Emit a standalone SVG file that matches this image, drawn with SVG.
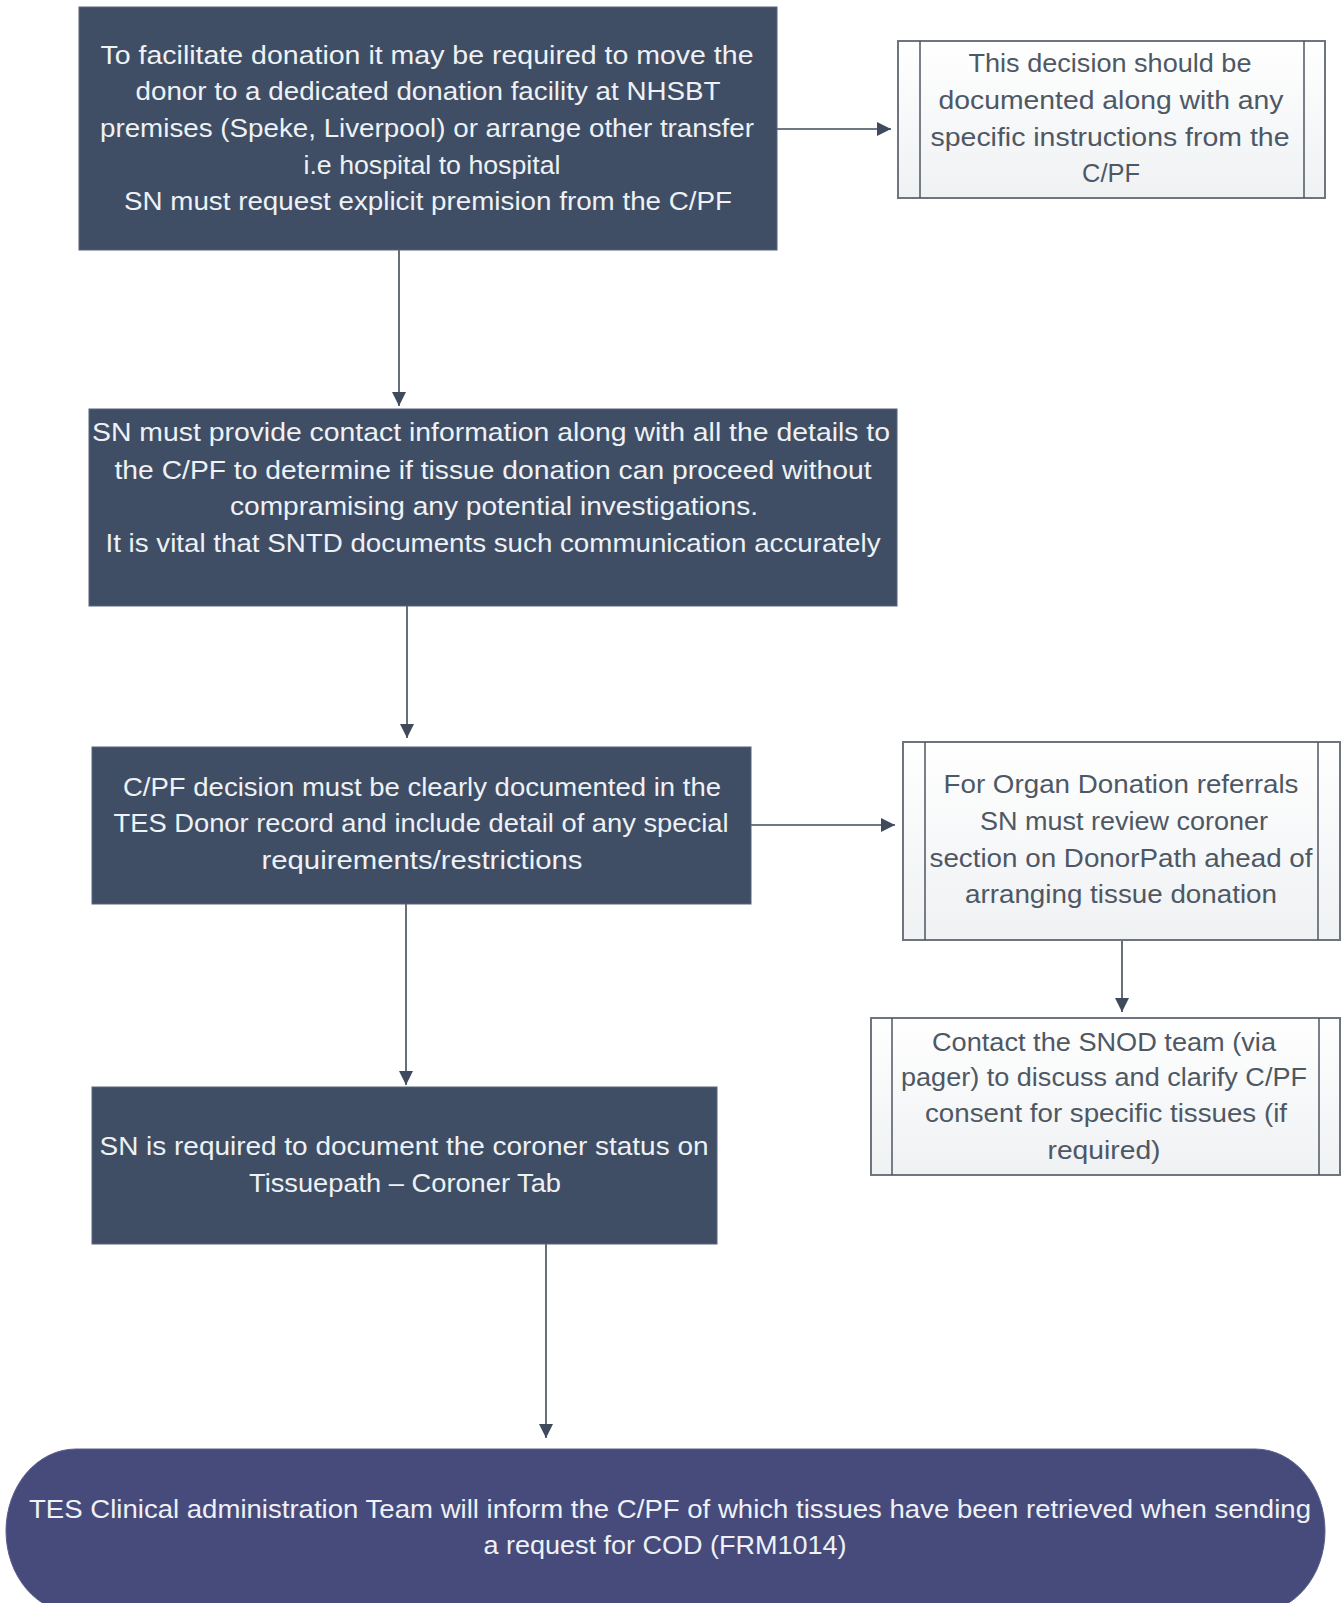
<svg xmlns="http://www.w3.org/2000/svg" width="1341" height="1603" viewBox="0 0 1341 1603">
<style>
.dark{fill:#3f4e64;stroke:#56657a;stroke-width:1}
.term{fill:#464b7c;stroke:#5a5f8c;stroke-width:1}
.side{fill:url(#sg);stroke:#6e757e;stroke-width:2}
.inner{stroke:#4f5660;stroke-width:1.5}
.tw{font-family:"Liberation Sans",Arial,sans-serif;font-size:25px;fill:#eef1f5;text-anchor:middle}
.tg{font-family:"Liberation Sans",Arial,sans-serif;font-size:25px;fill:#4e5864;text-anchor:middle}
.conn{stroke:#3f4b5c;stroke-width:1.6;fill:none;marker-end:url(#ah)}
</style>
<defs>
<linearGradient id="sg" x1="0" y1="0" x2="0" y2="1">
<stop offset="0" stop-color="#ffffff"/>
<stop offset="1" stop-color="#eff1f3"/>
</linearGradient>
<marker id="ah" viewBox="0 0 10 10" refX="10" refY="5" markerWidth="9" markerHeight="9" markerUnits="userSpaceOnUse" orient="auto">
<path d="M0 0 L10 5 L0 10 Z" fill="#3f4b5c"/>
</marker>
<marker id="ah2" viewBox="0 0 10 10" refX="10" refY="5" markerWidth="14" markerHeight="14" markerUnits="userSpaceOnUse" orient="auto">
<path d="M0 0 L10 5 L0 10 Z" fill="#3f4b5c"/>
</marker>
</defs>
<rect width="1341" height="1603" fill="#ffffff"/>

<g id="connectors">
<line class="conn" style="marker-end:url(#ah2)" x1="777" y1="129" x2="891" y2="129"/>
<line class="conn" style="marker-end:url(#ah2)" x1="399" y1="250" x2="399" y2="406"/>
<line class="conn" style="marker-end:url(#ah2)" x1="407" y1="606" x2="407" y2="738"/>
<line class="conn" style="marker-end:url(#ah2)" x1="751" y1="825" x2="895" y2="825"/>
<line class="conn" style="marker-end:url(#ah2)" x1="1122" y1="940" x2="1122" y2="1012"/>
<line class="conn" style="marker-end:url(#ah2)" x1="406" y1="904" x2="406" y2="1085"/>
<line class="conn" style="marker-end:url(#ah2)" x1="546" y1="1244" x2="546" y2="1438"/>
</g>

<g id="node1">
<rect class="dark" x="79" y="7" width="698" height="243"/>
<text class="tw" x="427" y="64" textLength="653" lengthAdjust="spacingAndGlyphs">To facilitate donation it may be required to move the</text>
<text class="tw" x="428" y="100" textLength="585" lengthAdjust="spacingAndGlyphs">donor to a dedicated donation facility at NHSBT</text>
<text class="tw" x="427" y="137" textLength="654" lengthAdjust="spacingAndGlyphs">premises (Speke, Liverpool) or arrange other transfer</text>
<text class="tw" x="432" y="174" textLength="257" lengthAdjust="spacingAndGlyphs">i.e hospital to hospital</text>
<text class="tw" x="428" y="210" textLength="608" lengthAdjust="spacingAndGlyphs">SN must request explicit premision from the C/PF</text>
</g>

<g id="node1b">
<rect class="side" x="898" y="41" width="427" height="157"/>
<line class="inner" x1="920" y1="41" x2="920" y2="198"/>
<line class="inner" x1="1304" y1="41" x2="1304" y2="198"/>
<text class="tg" x="1110" y="72" textLength="283" lengthAdjust="spacingAndGlyphs">This decision should be</text>
<text class="tg" x="1111" y="109" textLength="345" lengthAdjust="spacingAndGlyphs">documented along with any</text>
<text class="tg" x="1110" y="146" textLength="359" lengthAdjust="spacingAndGlyphs">specific instructions from the</text>
<text class="tg" x="1111" y="182" textLength="58" lengthAdjust="spacingAndGlyphs">C/PF</text>
</g>

<g id="node2">
<rect class="dark" x="89" y="409" width="808" height="197"/>
<text class="tw" x="491" y="441" textLength="798" lengthAdjust="spacingAndGlyphs">SN must provide contact information along with all the details to</text>
<text class="tw" x="493" y="479" textLength="757" lengthAdjust="spacingAndGlyphs">the C/PF to determine if tissue donation can proceed without</text>
<text class="tw" x="494" y="515" textLength="528" lengthAdjust="spacingAndGlyphs">compramising any potential investigations.</text>
<text class="tw" x="493" y="552" textLength="775" lengthAdjust="spacingAndGlyphs">It is vital that SNTD documents such communication accurately</text>
</g>

<g id="node3">
<rect class="dark" x="92" y="747" width="659" height="157"/>
<text class="tw" x="422" y="796" textLength="598" lengthAdjust="spacingAndGlyphs">C/PF decision must be clearly documented in the</text>
<text class="tw" x="421" y="832" textLength="615" lengthAdjust="spacingAndGlyphs">TES Donor record and include detail of any special</text>
<text class="tw" x="422" y="869" textLength="321" lengthAdjust="spacingAndGlyphs">requirements/restrictions</text>
</g>

<g id="node3b">
<rect class="side" x="903" y="742" width="437" height="198"/>
<line class="inner" x1="925" y1="742" x2="925" y2="940"/>
<line class="inner" x1="1318" y1="742" x2="1318" y2="940"/>
<text class="tg" x="1121" y="793" textLength="355" lengthAdjust="spacingAndGlyphs">For Organ Donation referrals</text>
<text class="tg" x="1124" y="830" textLength="288" lengthAdjust="spacingAndGlyphs">SN must review coroner</text>
<text class="tg" x="1121" y="867" textLength="383" lengthAdjust="spacingAndGlyphs">section on DonorPath ahead of</text>
<text class="tg" x="1121" y="903" textLength="312" lengthAdjust="spacingAndGlyphs">arranging tissue donation</text>
</g>

<g id="node3c">
<rect class="side" x="871" y="1018" width="469" height="157"/>
<line class="inner" x1="892" y1="1018" x2="892" y2="1175"/>
<line class="inner" x1="1319" y1="1018" x2="1319" y2="1175"/>
<text class="tg" x="1104" y="1051" textLength="344" lengthAdjust="spacingAndGlyphs">Contact the SNOD team (via</text>
<text class="tg" x="1104" y="1086" textLength="406" lengthAdjust="spacingAndGlyphs">pager) to discuss and clarify C/PF</text>
<text class="tg" x="1106" y="1122" textLength="362" lengthAdjust="spacingAndGlyphs">consent for specific tissues (if</text>
<text class="tg" x="1104" y="1159" textLength="113" lengthAdjust="spacingAndGlyphs">required)</text>
</g>

<g id="node4">
<rect class="dark" x="92" y="1087" width="625" height="157"/>
<text class="tw" x="404" y="1155" textLength="609" lengthAdjust="spacingAndGlyphs">SN is required to document the coroner status on</text>
<text class="tw" x="405" y="1192" textLength="312" lengthAdjust="spacingAndGlyphs">Tissuepath – Coroner Tab</text>
</g>

<g id="node5">
<rect class="term" x="6" y="1449" width="1319" height="164" rx="70" ry="82"/>
<text class="tw" x="670" y="1518" textLength="1282" lengthAdjust="spacingAndGlyphs">TES Clinical administration Team will inform the C/PF of which tissues have been retrieved when sending</text>
<text class="tw" x="665" y="1554" textLength="363" lengthAdjust="spacingAndGlyphs">a request for COD (FRM1014)</text>
</g>
</svg>
